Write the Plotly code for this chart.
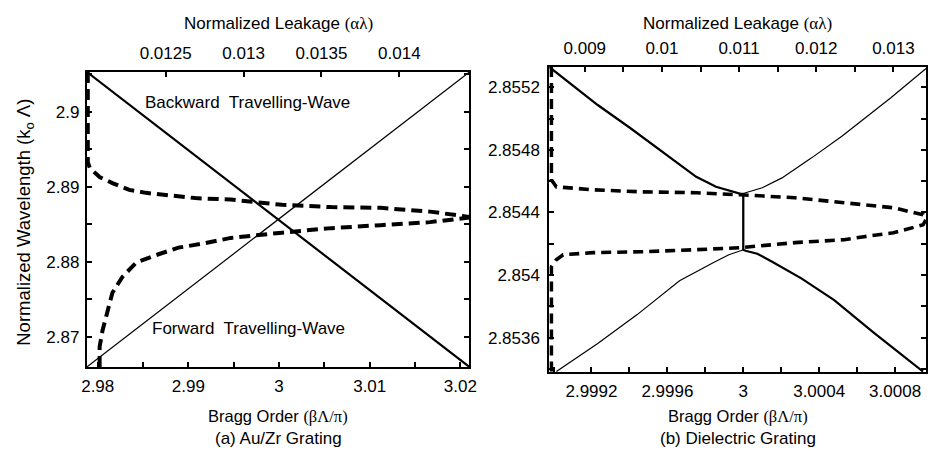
import plotly.graph_objects as go

# ---------------- Panel (a) Au/Zr grating ----------------
a_bragg_backward = [2.9788, 3.0210]
a_wl_backward = [2.9053, 2.8660]
a_bragg_forward = [2.9788, 3.0210]
a_wl_forward = [2.8660, 2.9053]

a_leak_upper = [0.012000, 0.012000, 0.012000, 0.012013, 0.012076, 0.012158, 0.012266,
                0.012373, 0.012519, 0.012690, 0.012918, 0.013247, 0.013563, 0.013880,
                0.014196, 0.014449]
a_wl_upper = [2.9053, 2.8989, 2.8933, 2.8925, 2.8913, 2.8905, 2.8896,
              2.8892, 2.8889, 2.8885, 2.8883, 2.8876, 2.8873, 2.8872,
              2.8867, 2.8860]
a_leak_lower = [0.012076, 0.012076, 0.012095, 0.012127, 0.012158, 0.012222, 0.012310,
                0.012437, 0.012582, 0.012753, 0.012918, 0.013247, 0.013563, 0.013880,
                0.014196, 0.014449]
a_wl_lower = [2.8660, 2.8687, 2.8709, 2.8736, 2.8759, 2.8780, 2.8799,
              2.8809, 2.8819, 2.8825, 2.8832, 2.8839, 2.8845, 2.8849,
              2.8853, 2.8859]

a_x_ticks = [2.98, 2.985, 2.99, 2.995, 3.0, 3.005, 3.01, 3.015, 3.02]
a_x_labels = ["2.98", "", "2.99", "", "3", "", "3.01", "", "3.02"]
a_y_ticks = [2.87, 2.875, 2.88, 2.885, 2.89, 2.895, 2.9, 2.905]
a_y_labels = ["2.87", "", "2.88", "", "2.89", "", "2.9", ""]
a_top_ticks = [0.0125, 0.013, 0.0135, 0.014]
a_top_labels = ["0.0125", "0.013", "0.0135", "0.014"]

# ---------------- Panel (b) Dielectric grating ----------------
b_bragg_backward = [2.998978, 2.999233, 2.999404, 2.999581, 2.999752, 2.999856, 2.999924,
                    2.999986, 3.0, 3.0, 3.000012, 3.000074, 3.000152, 3.000308,
                    3.000479, 3.000687, 3.000947]
b_wl_backward = [2.855330, 2.855087, 2.854940, 2.854781, 2.854628, 2.854564, 2.854538,
                 2.854519, 2.854519, 2.854162, 2.854155, 2.854136, 2.854085, 2.853977,
                 2.853840, 2.853632, 2.853383]
b_bragg_forward = [2.999015, 2.999233, 2.999441, 2.999664, 2.999841, 2.999924, 2.999986,
                   3.0, 3.0, 3.000012, 3.000100, 3.000204, 3.000360, 3.000521,
                   3.000776, 3.000963]
b_wl_forward = [2.853383, 2.853562, 2.853747, 2.853964, 2.854079, 2.854130, 2.854155,
                2.854162, 2.854519, 2.854526, 2.854558, 2.854621, 2.854749, 2.854889,
                2.855132, 2.855320]

b_leak_upper = [0.008567, 0.008567, 0.008567, 0.008631, 0.008759, 0.009103, 0.009742,
                0.010445, 0.011020, 0.011723, 0.012362, 0.012618, 0.013001, 0.013385,
                0.013420]
b_wl_upper = [2.855330, 2.854900, 2.854609, 2.854564, 2.854558, 2.854545, 2.854532,
              2.854526, 2.854513, 2.854494, 2.854462, 2.854449, 2.854430, 2.854385,
              2.854353]
b_leak_lower = [0.008567, 0.008567, 0.008567, 0.008631, 0.008720, 0.009103, 0.009742,
                0.010445, 0.011020, 0.011723, 0.012362, 0.012618, 0.013001, 0.013385,
                0.013420]
b_wl_lower = [2.853383, 2.853700, 2.854053, 2.854098, 2.854130, 2.854143, 2.854149,
              2.854162, 2.854175, 2.854207, 2.854226, 2.854245, 2.854270, 2.854321,
              2.854353]

b_x_ticks = [2.999, 2.9992, 2.9994, 2.9996, 2.9998, 3.0, 3.0002, 3.0004, 3.0006, 3.0008]
b_x_labels = ["", "2.9992", "", "2.9996", "", "3", "", "3.0004", "", "3.0008"]
b_y_ticks = [2.8534, 2.8536, 2.8538, 2.854, 2.8542, 2.8544, 2.8546, 2.8548, 2.855, 2.8552]
b_y_labels = ["", "2.8536", "", "2.854", "", "2.8544", "", "2.8548", "", "2.8552"]
b_top_ticks = [0.0085, 0.009, 0.0095, 0.01, 0.0105, 0.011, 0.0115, 0.012, 0.0125, 0.013]
b_top_labels = ["", "0.009", "", "0.01", "", "0.011", "", "0.012", "", "0.013"]

SANS = "Liberation Sans, Arial, sans-serif"
FS = 17

fig = go.Figure()

# panel (a) traces
fig.add_trace(go.Scatter(x=a_bragg_backward, y=a_wl_backward, mode="lines",
                         line=dict(color="black", width=2.2), xaxis="x", yaxis="y"))
fig.add_trace(go.Scatter(x=a_bragg_forward, y=a_wl_forward, mode="lines",
                         line=dict(color="black", width=1.2), xaxis="x", yaxis="y"))
fig.add_trace(go.Scatter(x=a_leak_upper, y=a_wl_upper, mode="lines",
                         line=dict(color="black", width=4, dash="11px,6px"),
                         xaxis="x2", yaxis="y"))
fig.add_trace(go.Scatter(x=a_leak_lower, y=a_wl_lower, mode="lines",
                         line=dict(color="black", width=4, dash="11px,6px"),
                         xaxis="x2", yaxis="y"))

# panel (b) traces
fig.add_trace(go.Scatter(x=b_bragg_backward, y=b_wl_backward, mode="lines",
                         line=dict(color="black", width=2.2), xaxis="x3", yaxis="y2"))
fig.add_trace(go.Scatter(x=b_bragg_forward, y=b_wl_forward, mode="lines",
                         line=dict(color="black", width=1.2), xaxis="x3", yaxis="y2"))
fig.add_trace(go.Scatter(x=b_leak_upper, y=b_wl_upper, mode="lines",
                         line=dict(color="black", width=3.6, dash="10px,6px"),
                         xaxis="x4", yaxis="y2"))
fig.add_trace(go.Scatter(x=b_leak_lower, y=b_wl_lower, mode="lines",
                         line=dict(color="black", width=3.6, dash="10px,6px"),
                         xaxis="x4", yaxis="y2"))

W, H = 936, 452
dom_a_x = [82 / W, 470 / W]
dom_a_y = [1 - 367 / H, 1 - 72 / H]
dom_b_x = [551 / W, 933 / W]
dom_b_y = [1 - 372 / H, 1 - 67 / H]

tickfont = dict(family=SANS, size=FS, color="black")
common = dict(showgrid=False, zeroline=False, showline=True, linecolor="black",
              linewidth=2, ticks="inside", ticklen=5, tickwidth=1.5, tickcolor="black",
              tickfont=tickfont, tickmode="array")

fig.update_layout(
    width=W, height=H,
    margin=dict(l=0, r=0, t=0, b=0),
    paper_bgcolor="white", plot_bgcolor="white",
    showlegend=False,
    xaxis=dict(common, domain=dom_a_x, anchor="y", range=[2.9788, 3.0210],
               tickvals=a_x_ticks, ticktext=a_x_labels, ticklabelstandoff=3),
    xaxis2=dict(common, domain=dom_a_x, anchor="y", overlaying="x", side="top",
                range=[0.011994, 0.01445], tickvals=a_top_ticks, ticktext=a_top_labels,
                ticklabelstandoff=4),
    yaxis=dict(common, domain=dom_a_y, anchor="x", range=[2.8660, 2.9053],
               tickvals=a_y_ticks, ticktext=a_y_labels, mirror="ticks",
               ticklabelstandoff=2),
    xaxis3=dict(common, domain=dom_b_x, anchor="y2", range=[2.998978, 3.000963],
                tickvals=b_x_ticks, ticktext=b_x_labels, ticklabelstandoff=3),
    xaxis4=dict(common, domain=dom_b_x, anchor="y2", overlaying="x3", side="top",
                range=[0.008541, 0.013423], tickvals=b_top_ticks, ticktext=b_top_labels,
                ticklabelstandoff=4),
    yaxis2=dict(common, domain=dom_b_y, anchor="x3", range=[2.85338, 2.85533],
                tickvals=b_y_ticks, ticktext=b_y_labels, mirror="ticks",
                ticklabelstandoff=4),
)

def ann(text, x, y, angle=0, size=FS):
    fig.add_annotation(text=text, x=x, y=y, xref="paper", yref="paper",
                       xanchor="center", yanchor="middle", showarrow=False,
                       textangle=angle, font=dict(family=SANS, size=size, color="black"))

leak_title = 'Normalized Leakage <span style="font-family:Liberation Serif">(αλ)</span>'
bragg_title = 'Bragg Order <span style="font-family:Liberation Serif">(βΛ/π)</span>'

ann(leak_title, 276 / W, 1 - 24 / H, size=17)
ann(leak_title, 742 / W, 1 - 24 / H, size=17)
ann(bragg_title, 276 / W, 1 - 416 / H, size=16.5)
ann(bragg_title, 742 / W, 1 - 416 / H, size=16.5)
ann("(a) Au/Zr Grating", 276 / W, 1 - 438 / H, size=17)
ann("(b) Dielectric Grating", 742 / W, 1 - 438 / H, size=17)
ann("Normalized Wavelength (k<sub>o</sub> Λ)", 19 / W, 1 - 222 / H, angle=-90, size=18.5)
ann("Backward  Travelling-Wave", 245 / W, 1 - 103 / H, size=17)
ann("Forward  Travelling-Wave", 246 / W, 1 - 328 / H, size=17)

fig.write_html("out.html")
